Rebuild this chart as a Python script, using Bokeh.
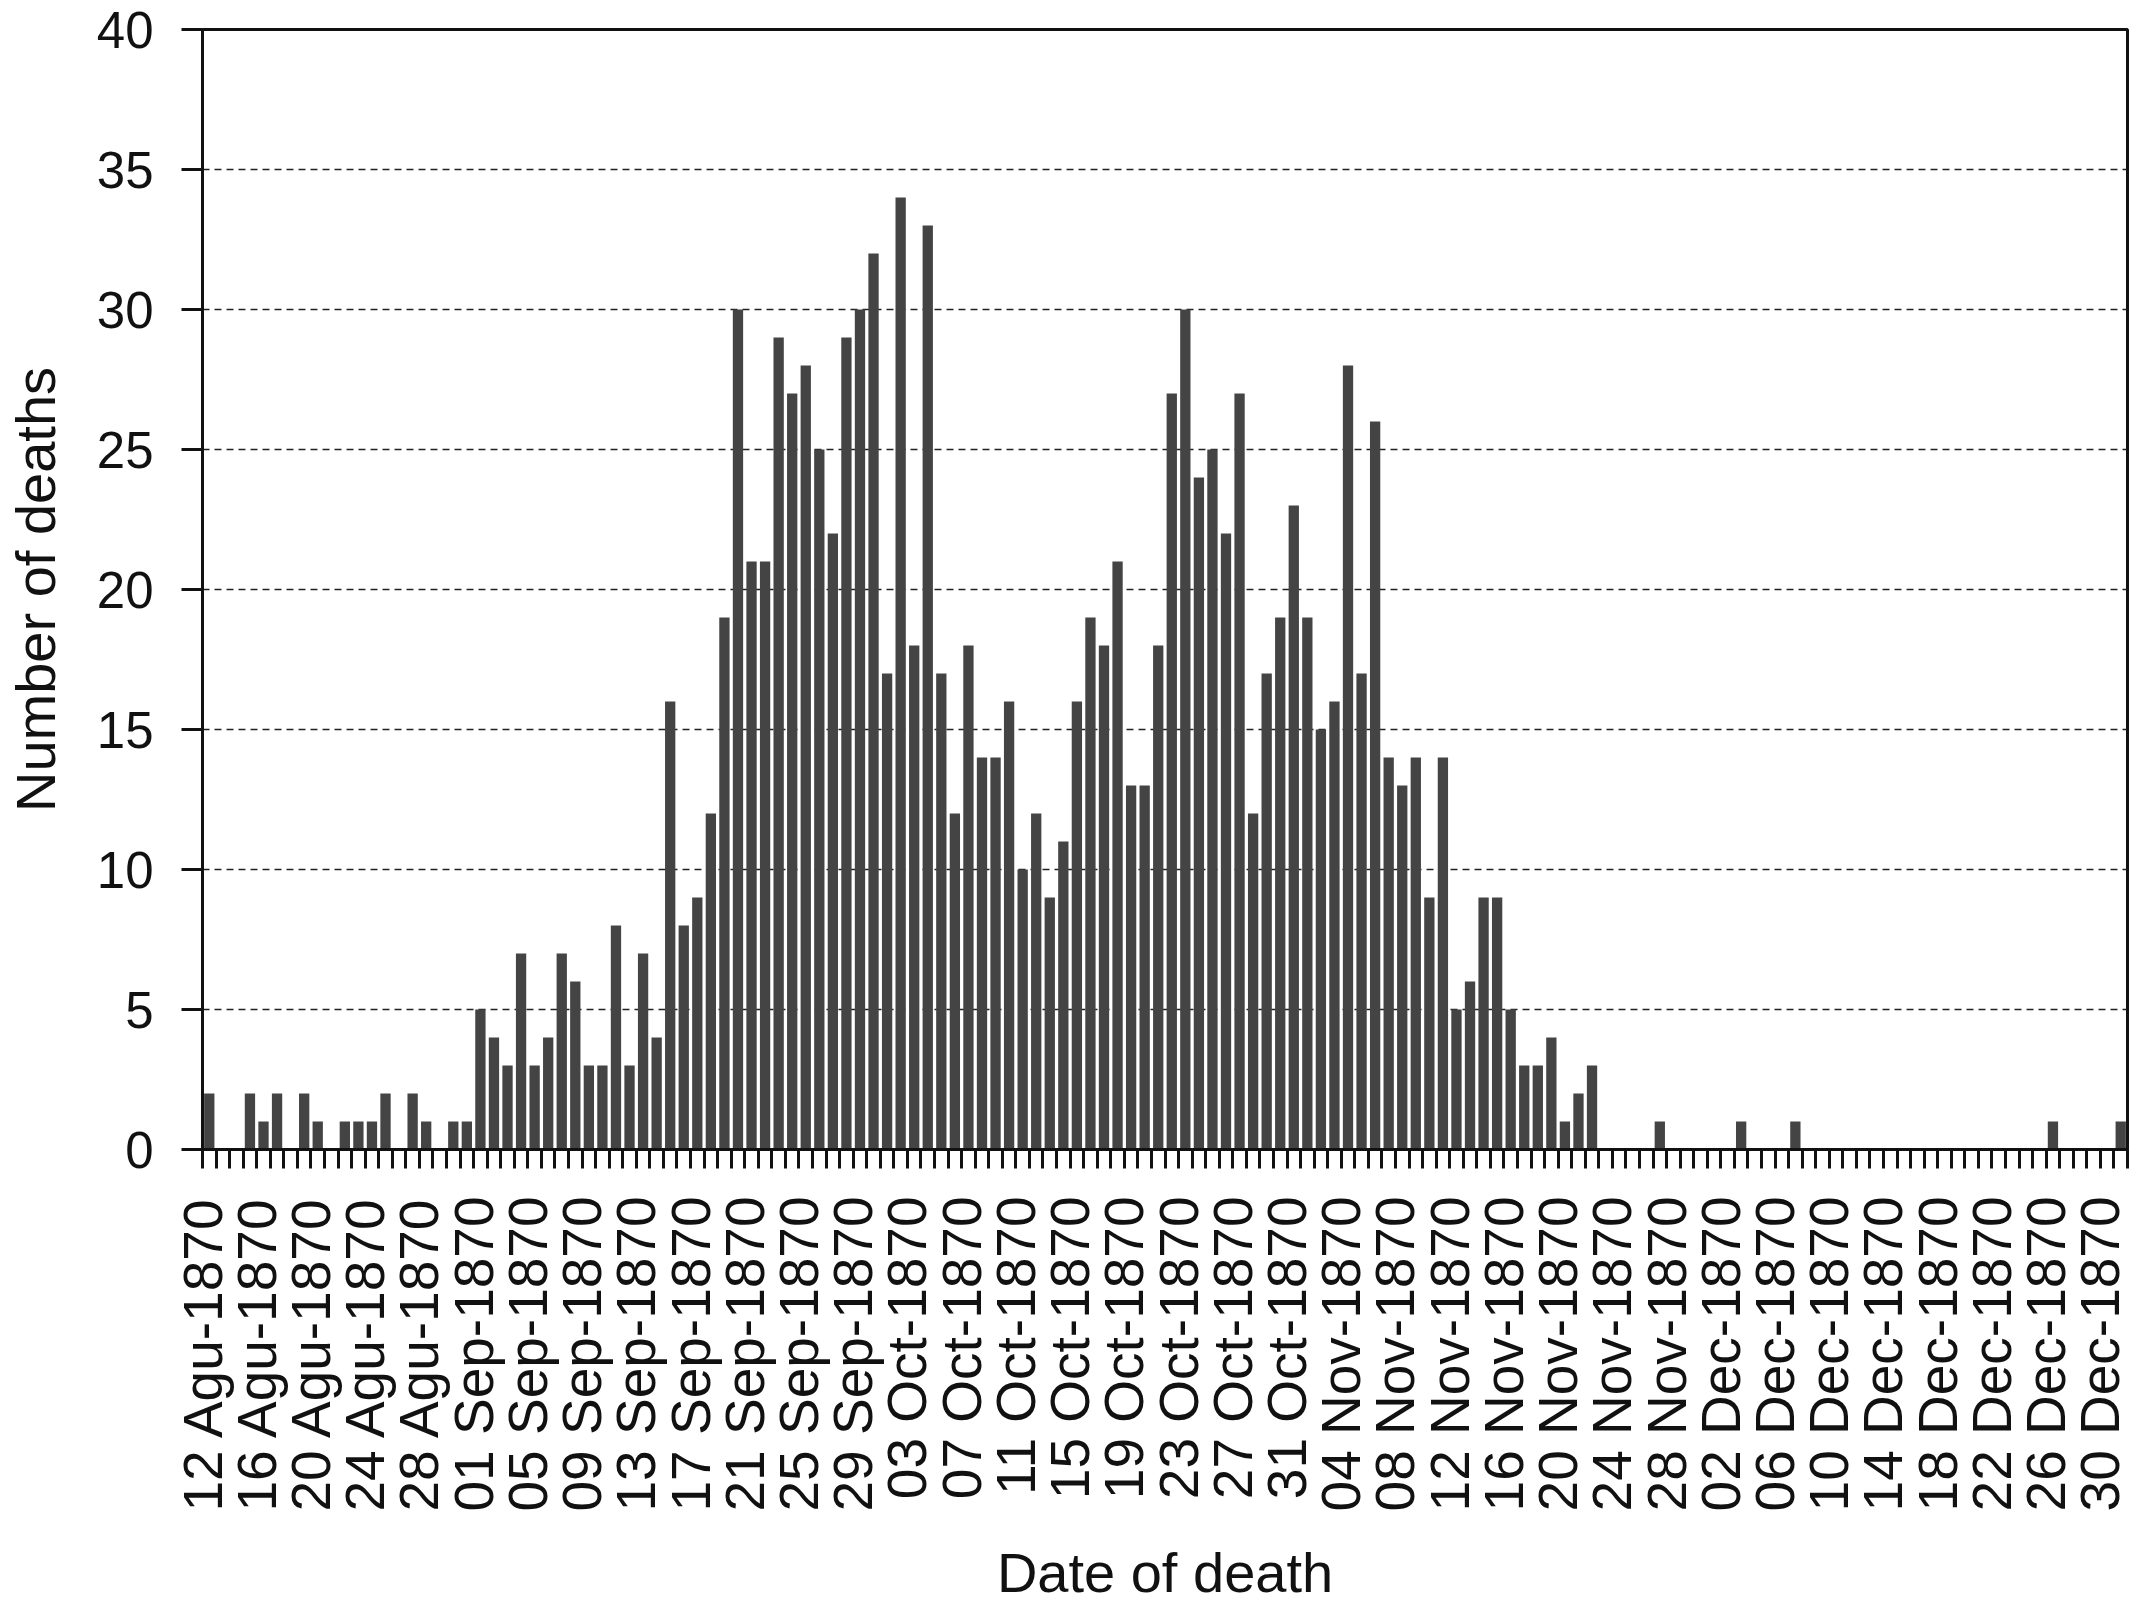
import math
from bokeh.plotting import figure
from bokeh.models import FixedTicker, Range1d
from bokeh.embed import file_html
from bokeh.resources import INLINE

# Daily deaths, 12 Aug 1870 .. 31 Dec 1870 (142 days)
deaths = [
    2, 0, 0, 2, 1, 2, 0, 2, 1, 0,      # 12-21 Aug
    1, 1, 1, 2, 0, 2, 1, 0, 1, 1,      # 22-31 Aug
    5, 4, 3, 7, 3, 4, 7, 6, 3, 3,      # 01-10 Sep
    8, 3, 7, 4, 16, 8, 9, 12, 19, 30,  # 11-20 Sep
    21, 21, 29, 27, 28, 25, 22, 29, 30, 32,  # 21-30 Sep
    17, 34, 18, 33, 17, 12, 18, 14, 14, 16,  # 01-10 Oct
    10, 12, 9, 11, 16, 19, 18, 21, 13, 13,   # 11-20 Oct
    18, 27, 30, 24, 25, 22, 27, 12, 17, 19,  # 21-30 Oct
    23, 19, 15, 16, 28, 17, 26, 14, 13, 14,  # 31 Oct - 09 Nov
    9, 14, 5, 6, 9, 9, 5, 3, 3, 4,           # 10-19 Nov
    1, 2, 3, 0, 0, 0, 0, 1, 0, 0,            # 20-29 Nov
    0, 0, 0, 1, 0, 0, 0, 1, 0, 0,            # 30 Nov - 09 Dec
    0, 0, 0, 0, 0, 0, 0, 0, 0, 0,            # 10-19 Dec
    0, 0, 0, 0, 0, 0, 1, 0, 0, 0,            # 20-29 Dec
    0, 1,                                    # 30-31 Dec
]

tick_labels = [
    "12 Agu-1870", "16 Agu-1870", "20 Agu-1870", "24 Agu-1870", "28 Agu-1870",
    "01 Sep-1870", "05 Sep-1870", "09 Sep-1870", "13 Sep-1870", "17 Sep-1870",
    "21 Sep-1870", "25 Sep-1870", "29 Sep-1870", "03 Oct-1870", "07 Oct-1870",
    "11 Oct-1870", "15 Oct-1870", "19 Oct-1870", "23 Oct-1870", "27 Oct-1870",
    "31 Oct-1870", "04 Nov-1870", "08 Nov-1870", "12 Nov-1870", "16 Nov-1870",
    "20 Nov-1870", "24 Nov-1870", "28 Nov-1870", "02 Dec-1870", "06 Dec-1870",
    "10 Dec-1870", "14 Dec-1870", "18 Dec-1870", "22 Dec-1870", "26 Dec-1870",
    "30 Dec-1870",
]
label_step = 4
y_ticks = [0, 5, 10, 15, 20, 25, 30, 35, 40]
grid_ticks = [5, 10, 15, 20, 25, 30, 35]

n = len(deaths)
xs = [i + 0.5 for i in range(n)]

FONT = "Liberation Sans"
INK = "#111111"

p = figure(width=2136, height=1607, x_range=Range1d(0, n), y_range=Range1d(0, 40),
           output_backend="svg", toolbar_location=None,
           min_border_left=202, min_border_right=9, min_border_top=29, min_border_bottom=457)

p.vbar(x=xs, top=deaths, width=0.76, fill_color="#444444", line_color=None)

p.outline_line_color = INK
p.outline_line_width = 3
p.outline_line_alpha = 1.0

# grid
p.xgrid.visible = False
p.ygrid.ticker = FixedTicker(ticks=grid_ticks)
p.ygrid.grid_line_color = "#222222"
p.ygrid.grid_line_width = 1.5
p.ygrid.grid_line_dash = "7 5"

# y axis
ya = p.yaxis[0]
ya.ticker = FixedTicker(ticks=y_ticks)
ya.axis_line_width = 3
ya.axis_line_color = INK
ya.major_tick_line_width = 3
ya.major_tick_line_color = INK
ya.major_tick_out = 21
ya.major_tick_in = 0
ya.minor_tick_line_color = None
ya.major_label_standoff = 28
ya.major_label_text_font = FONT
ya.major_label_text_font_size = "51px"
ya.major_label_text_color = INK
ya.axis_label = "Number of deaths"
ya.axis_label_text_font = FONT
ya.axis_label_text_font_size = "56px"
ya.axis_label_text_font_style = "normal"
ya.axis_label_text_color = INK
ya.axis_label_standoff = 27

# x axis
xa = p.xaxis[0]
xa.ticker = FixedTicker(ticks=list(range(0, n + 1)))
overrides = {i: "" for i in range(0, n + 1)}
for k, lab in enumerate(tick_labels):
    overrides[k * label_step] = lab
xa.major_label_overrides = overrides
xa.major_label_orientation = math.pi / 2
xa.axis_line_width = 3
xa.axis_line_color = INK
xa.major_tick_line_width = 3
xa.major_tick_line_color = INK
xa.major_tick_out = 19
xa.major_tick_in = 0
xa.minor_tick_line_color = None
xa.major_label_standoff = 28
xa.major_label_text_font = FONT
xa.major_label_text_font_size = "55px"
xa.major_label_text_color = INK
xa.axis_label = "Date of death"
xa.axis_label_text_font = FONT
xa.axis_label_text_font_size = "56px"
xa.axis_label_text_font_style = "normal"
xa.axis_label_text_color = INK
xa.axis_label_standoff = 27

open("out.html", "w").write(file_html(p, INLINE))
